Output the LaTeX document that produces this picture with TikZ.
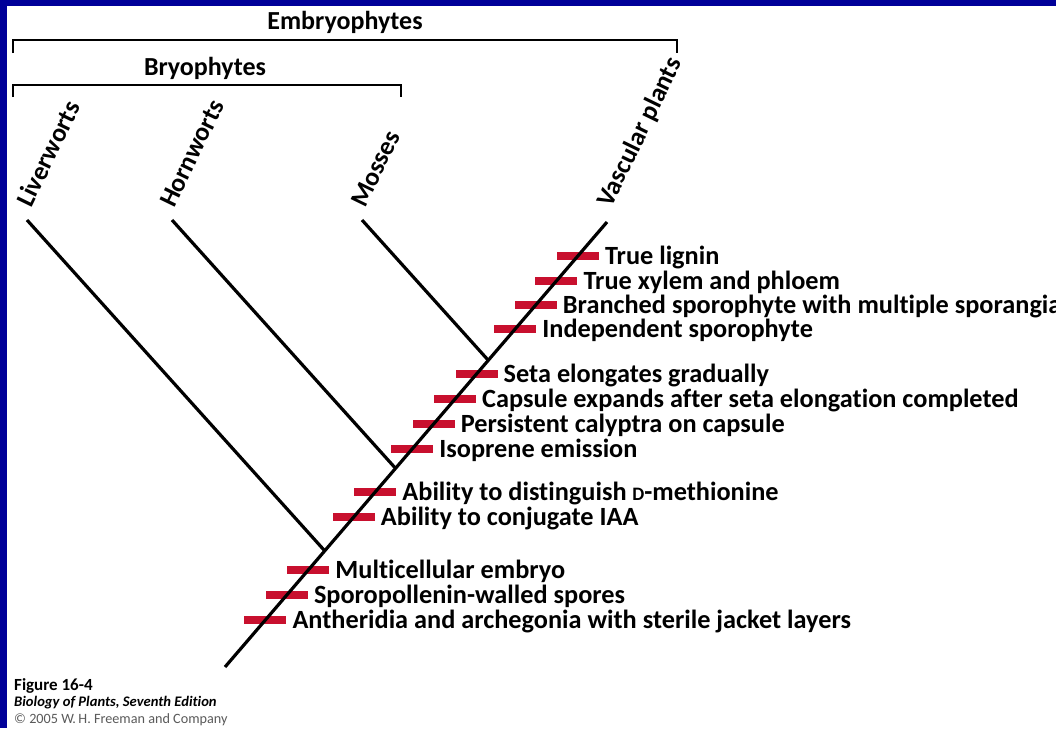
\documentclass[tikz,border=0pt]{standalone}
\usepackage{fontspec}
\setmainfont[Ligatures=NoCommon]{Carlito}
\usetikzlibrary{calc}
\definecolor{frameblue}{RGB}{0,0,153}
\definecolor{barred}{RGB}{200,16,46}
\definecolor{capgray}{RGB}{90,90,90}
\begin{document}
\begin{tikzpicture}[x=1pt,y=-1pt,
  branch/.style={line width=3.2pt},
  bracket/.style={line width=2.8pt},
  synbar/.style={fill=barred, draw=none, minimum width=42pt, minimum height=8.5pt, inner sep=0pt, outer sep=0pt},
  synlabel/.style={anchor=base west, inner sep=0pt, font=\bfseries\fontsize{26.3}{28}\selectfont},
  taxon/.style={anchor=base west, inner sep=0pt, rotate=64, font=\bfseries\fontsize{26}{28}\selectfont},
  grouplabel/.style={anchor=base, inner sep=0pt, font=\bfseries\fontsize{26}{28}\selectfont},
  caption/.style={anchor=base west, inner sep=0pt}]
\useasboundingbox (0,0) rectangle (1056,728);
\fill[white] (0,0) rectangle (1056,728);
\fill[frameblue] (0,0) rectangle (1056,6);
\fill[frameblue] (0,0) rectangle (7,728);

% brackets
\coordinate (e1) at (13,53); \coordinate (e2) at (13,40);
\coordinate (e3) at (677,40); \coordinate (e4) at (677,53);
\draw[bracket] (e1) -- (e2) -- (e3) -- (e4);
\node[grouplabel] (embryo) at (345,29) {Embryophytes};
\coordinate (r1) at (13,97); \coordinate (r2) at (13,85);
\coordinate (r3) at (401,85); \coordinate (r4) at (401,97);
\draw[bracket] (r1) -- (r2) -- (r3) -- (r4);
\node[grouplabel] (bryo) at (205,75) {Bryophytes};

% tree coordinates
\coordinate (root) at (225,667);
\coordinate (vasc) at (607,222);
\coordinate (liv) at (27,220);
\coordinate (horn) at (172,220);
\coordinate (moss) at (362,220);
\coordinate (jL) at (324.7,550.8);
\coordinate (jH) at (395.5,468.3);
\coordinate (jM) at (488.2,360.2);

% synapomorphy bars
\node[synbar] (b1) at ($(root)!0.9236!(vasc)$) {};
\node[synbar] (b2) at ($(root)!0.8674!(vasc)$) {};
\node[synbar] (b3) at ($(root)!0.8135!(vasc)$) {};
\node[synbar] (b4) at ($(root)!0.7596!(vasc)$) {};
\node[synbar] (b5) at ($(root)!0.6584!(vasc)$) {};
\node[synbar] (b6) at ($(root)!0.6022!(vasc)$) {};
\node[synbar] (b7) at ($(root)!0.5461!(vasc)$) {};
\node[synbar] (b8) at ($(root)!0.4899!(vasc)$) {};
\node[synbar] (b9) at ($(root)!0.3933!(vasc)$) {};
\node[synbar] (b10) at ($(root)!0.3371!(vasc)$) {};
\node[synbar] (b11) at ($(root)!0.2180!(vasc)$) {};
\node[synbar] (b12) at ($(root)!0.1618!(vasc)$) {};
\node[synbar] (b13) at ($(root)!0.1056!(vasc)$) {};

% branches
\draw[branch] (root) -- (vasc);
\draw[branch] (liv) -- (jL);
\draw[branch] (horn) -- (jH);
\draw[branch] (moss) -- (jM);

% taxa
\node[taxon] (tliv) at (31,209) {Liverworts};
\node[taxon] (thorn) at (174,209) {Hornworts};
\node[taxon] (tmoss) at (365,209) {Mosses};
\node[taxon] (tvasc) at (611,209) {Vascular plants};

% labels
\node[synlabel] (t1) at ($(b1.east)+(6,8.5)$) {True lignin};
\node[synlabel] (t2) at ($(b2.east)+(6,8.5)$) {True xylem and phloem};
\node[synlabel] (t3) at ($(b3.east)+(6,8.5)$) {Branched sporophyte with multiple sporangia};
\node[synlabel] (t4) at ($(b4.east)+(6,8.5)$) {Independent sporophyte};
\node[synlabel] (t5) at ($(b5.east)+(6,8.5)$) {Seta elongates gradually};
\node[synlabel] (t6) at ($(b6.east)+(6,8.5)$) {Capsule expands after seta elongation completed};
\node[synlabel] (t7) at ($(b7.east)+(6,8.5)$) {Persistent calyptra on capsule};
\node[synlabel] (t8) at ($(b8.east)+(6,8.5)$) {Isoprene emission};
\node[synlabel] (t9) at ($(b9.east)+(6,8.5)$) {Ability to distinguish {\fontsize{19}{20}\selectfont D}-methionine};
\node[synlabel] (t10) at ($(b10.east)+(6,8.5)$) {Ability to conjugate IAA};
\node[synlabel] (t11) at ($(b11.east)+(6,8.5)$) {Multicellular embryo};
\node[synlabel] (t12) at ($(b12.east)+(6,8.5)$) {Sporopollenin-walled spores};
\node[synlabel] (t13) at ($(b13.east)+(6,8.5)$) {Antheridia and archegonia with sterile jacket layers};

% caption
\node[caption, font=\bfseries\fontsize{17}{18}\selectfont] (fig) at (14,690) {Figure 16-4};
\node[caption, font=\bfseries\itshape\fontsize{14.6}{16}\selectfont] (book) at (14,706) {Biology of Plants, Seventh Edition};
\node[caption, text=capgray, font=\fontsize{14.2}{16}\selectfont] (copy) at (14,723) {\textcopyright\ 2005 W.\,H. Freeman and Company};
\end{tikzpicture}
\end{document}
